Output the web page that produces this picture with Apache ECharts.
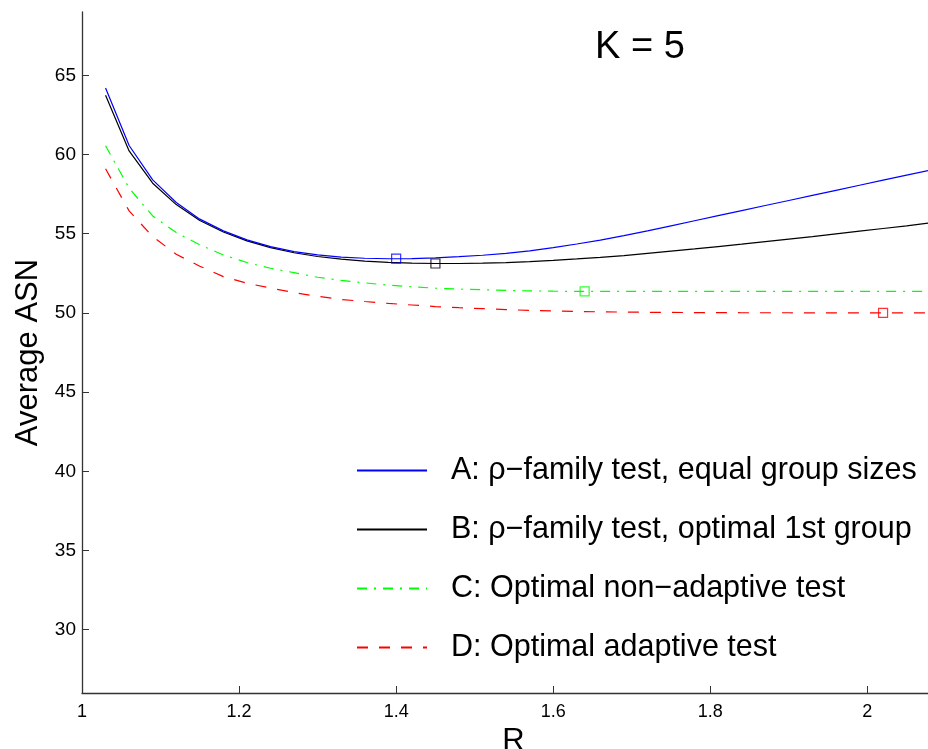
<!DOCTYPE html>
<html>
<head>
<meta charset="utf-8">
<script src="https://cdn.jsdelivr.net/npm/echarts@6/dist/echarts.min.js"></script>
<style>html,body{margin:0;padding:0;background:#fff;overflow:hidden}#c{width:928px;height:749px}</style>
</head>
<body>
<div id="c"></div>
<script>
const R = [1.03,1.06,1.09,1.12,1.15,1.18,1.21,1.24,1.27,1.30,1.33,1.36,1.39,1.42,1.45,1.48,1.51,1.54,1.57,1.60,1.63,1.66,1.69,1.72,1.75,1.78,1.81,1.84,1.87,1.90,1.93,1.96,1.99,2.02,2.05,2.08];
const seriesA = [64.2,60.57,58.4,56.97,55.92,55.18,54.61,54.19,53.87,53.66,53.52,53.45,53.42,53.43,53.47,53.55,53.64,53.76,53.92,54.12,54.35,54.6,54.88,55.18,55.5,55.82,56.14,56.46,56.78,57.1,57.42,57.74,58.06,58.38,58.7,59.02];
const seriesB = [63.75,60.23,58.19,56.84,55.83,55.11,54.55,54.12,53.8,53.56,53.4,53.27,53.19,53.14,53.12,53.12,53.14,53.18,53.24,53.32,53.41,53.51,53.62,53.76,53.9,54.04,54.19,54.34,54.5,54.66,54.82,54.99,55.16,55.33,55.5,55.68];
const seriesC = [60.55,57.88,56.12,55.07,54.3,53.66,53.18,52.82,52.54,52.25,52.05,51.9,51.75,51.65,51.56,51.5,51.46,51.42,51.39,51.37,51.36,51.36,51.36,51.36,51.36,51.36,51.36,51.36,51.36,51.36,51.36,51.36,51.36,51.36,51.36,51.36];
const seriesD = [59.1,56.44,54.82,53.7,52.95,52.29,51.87,51.57,51.28,51.05,50.85,50.72,50.6,50.5,50.4,50.33,50.27,50.21,50.16,50.12,50.09,50.07,50.05,50.04,50.03,50.02,50.02,50.01,50.01,50.01,50.0,50.0,50.0,50.0,50.0,50.0];
const optA = [1.40, 53.43];
const optB = [1.45, 53.12];
const optC = [1.64, 51.36];
const optD = [2.02, 50.0];
const names = ['A: \u03c1\u2212family test, equal group sizes','B: \u03c1\u2212family test, optimal 1st group','C: Optimal non\u2212adaptive test','D: Optimal adaptive test'];
const colors = ['#0000ff','#000000','#00ff00','#ff0000'];
const xTicks = [1,1.2,1.4,1.6,1.8,2];
const yTicks = [30,35,40,45,50,55,60,65];

const FONT = 'Liberation Sans, Arial, sans-serif';
const zip = arr => R.map((x,i)=>[x,arr[i]]);
const lineTypes = ['solid','solid',[10,7,2,7],[11,11]];
const datas = [seriesA,seriesB,seriesC,seriesD];
const opts = [optA,optB,optC,optD];

const series = [];
datas.forEach((d,i)=>{
  series.push({
    name: names[i], type:'line', data: zip(d), symbol:'none', smooth:false, clip:true,
    lineStyle:{color:colors[i], width:1.2, type:lineTypes[i]},
    itemStyle:{color:colors[i]}, z: 4-i, animation:false
  });
});
opts.forEach((p,i)=>{
  series.push({
    name: 'opt'+i, type:'scatter', data:[p], symbol:'rect', symbolSize:9,
    itemStyle:{color:'rgba(0,0,0,0)', borderColor:colors[i], borderWidth:1.2},
    z:10, animation:false
  });
});

const chart = echarts.init(document.getElementById('c'), null, {width:928, height:749});
chart.setOption({
  animation:false,
  backgroundColor:'#fff',
  title:{text:'K = 5', left:590, top:24, textStyle:{fontFamily:FONT, fontSize:38, fontWeight:'normal', color:'#000'}},
  grid:{left:82, right:0, top:12, bottom:56, containLabel:false, outerBoundsMode:'none'},
  legend:{
    data:names, orient:'vertical', left:351, top:450, itemWidth:70, itemHeight:14, itemGap:28,
    itemStyle:{opacity:0},
    textStyle:{fontFamily:FONT, fontSize:30.5, color:'#000', lineHeight:30, padding:[0,0,0,19]},
    selectedMode:false
  },
  xAxis:{
    type:'value', min:1, max:2.0772,
    name:'R', nameLocation:'middle', nameGap:30,
    nameTextStyle:{fontFamily:FONT, fontSize:31, color:'#000', padding:[0,0,0,17]},
    axisLine:{lineStyle:{color:'#333', width:1.3}},
    axisTick:{inside:true, length:7, customValues:xTicks, lineStyle:{color:'#333'}},
    axisLabel:{customValues:xTicks, fontFamily:FONT, fontSize:18, color:'#000', margin:10},
    splitLine:{show:false}
  },
  yAxis:{
    type:'value', min:26, max:69,
    name:'Average ASN', nameLocation:'middle', nameGap:38,
    nameTextStyle:{fontFamily:FONT, fontSize:31, color:'#000'},
    axisLine:{show:true, lineStyle:{color:'#333', width:1.3}},
    axisTick:{show:true, inside:true, length:7, customValues:yTicks, lineStyle:{color:'#333'}},
    axisLabel:{customValues:yTicks, fontFamily:FONT, fontSize:19, color:'#000', margin:6},
    splitLine:{show:false}
  },
  series: series
});
</script>
</body>
</html>
